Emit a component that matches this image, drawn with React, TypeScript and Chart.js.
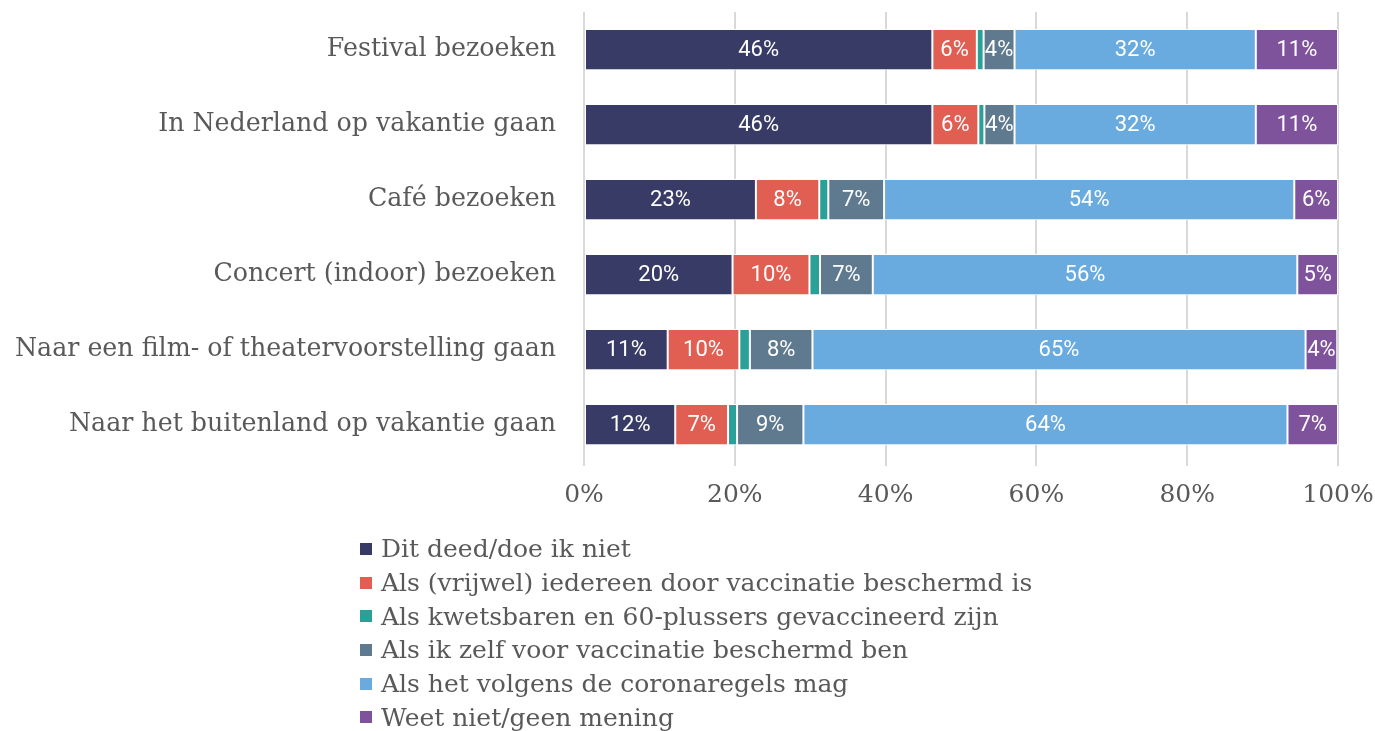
import React, { useEffect, useRef } from "react";
import { Chart, registerables } from "chart.js";

Chart.register(...registerables);

const categories = [
  "Festival bezoeken",
  "In Nederland op vakantie gaan",
  "Café bezoeken",
  "Concert (indoor) bezoeken",
  "Naar een film- of theatervoorstelling gaan",
  "Naar het buitenland op vakantie gaan",
];

const seriesNames = [
  "Dit deed/doe ik niet",
  "Als (vrijwel) iedereen door vaccinatie beschermd is",
  "Als kwetsbaren en 60-plussers gevaccineerd zijn",
  "Als ik zelf voor vaccinatie beschermd ben",
  "Als het volgens de coronaregels mag",
  "Weet niet/geen mening",
];

const ditDeedIkNiet = [46.2, 46.2, 22.8, 19.7, 11.1, 12.1];
const iedereenBeschermd = [5.9, 6.1, 8.4, 10.2, 9.5, 7.0];
const kwetsbarenGevaccineerd = [0.9, 0.8, 1.2, 1.4, 1.4, 1.2];
const zelfBeschermd = [4.1, 4.0, 7.4, 7.0, 8.3, 8.8];
const volgensRegels = [32.0, 32.0, 54.4, 56.3, 65.4, 64.2];
const weetNiet = [10.9, 10.9, 5.8, 5.4, 4.2, 6.7];

const xTicks = [0, 20, 40, 60, 80, 100];

const colors = ["#383B66", "#E05E52", "#2AA198", "#5F7A8E", "#69ABDF", "#7F539B"];

const seriesValues = [
  ditDeedIkNiet,
  iedereenBeschermd,
  kwetsbarenGevaccineerd,
  zelfBeschermd,
  volgensRegels,
  weetNiet,
];

const serif = "'DejaVu Serif', serif";
const textColor = "#595959";

const valueLabels = {
  id: "valueLabels",
  afterDatasetsDraw(chart: any) {
    const ctx = chart.ctx;
    ctx.save();
    ctx.font = "22px Roboto";
    ctx.fillStyle = "#ffffff";
    ctx.textAlign = "center";
    ctx.textBaseline = "middle";
    chart.data.datasets.forEach((ds: any, di: number) => {
      const meta = chart.getDatasetMeta(di);
      meta.data.forEach((bar: any, i: number) => {
        const v = ds.data[i];
        if (v < 3) return;
        const cx = (bar.x + bar.base) / 2;
        ctx.fillText(Math.round(v) + "%", cx, bar.y + 1);
      });
    });
    ctx.restore();
  },
};

const zeroPad = (scale: any) => {
  scale.paddingTop = 0;
  scale.paddingBottom = 0;
  scale.paddingLeft = 0;
  scale.paddingRight = 0;
};

export default function App() {
  const ref = useRef<HTMLCanvasElement | null>(null);

  useEffect(() => {
    document.body.style.margin = "0";
    const chart = new Chart(ref.current as HTMLCanvasElement, {
      type: "bar",
      data: {
        labels: categories,
        datasets: seriesNames.map((name, i) => ({
          label: name,
          data: seriesValues[i],
          backgroundColor: colors[i],
          borderColor: "#ffffff",
          borderWidth: 1,
          borderSkipped: false,
          barPercentage: 0.55,
          categoryPercentage: 1,
        })),
      },
      options: {
        indexAxis: "y",
        animation: false,
        responsive: false,
        maintainAspectRatio: false,
        layout: { padding: { left: 0, right: 37, top: 12, bottom: 219 } },
        plugins: { legend: { display: false }, tooltip: { enabled: false } },
        scales: {
          x: {
            stacked: true,
            min: 0,
            max: 100,
            afterBuildTicks: (scale: any) => {
              scale.ticks = xTicks.map((v) => ({ value: v }));
            },
            afterFit: (scale: any) => {
              scale.height = 50;
              zeroPad(scale);
            },
            ticks: {
              callback: (v: any) => v + "%",
              color: textColor,
              font: { family: serif, size: 25 },
              padding: 14,
            },
            grid: { color: "#D9D9D9", lineWidth: 2, tickLength: 4 },
            border: { display: false },
          },
          y: {
            stacked: true,
            afterFit: (scale: any) => {
              scale.width = 584;
              zeroPad(scale);
            },
            ticks: {
              color: textColor,
              font: { family: serif, size: 25.3 },
              padding: 20,
            },
            grid: { display: false },
            border: { display: false },
          },
        },
      },
      plugins: [valueLabels],
    } as any);
    return () => chart.destroy();
  }, []);

  return (
    <div style={{ position: "absolute", left: 0, top: 0, width: 1375, height: 731, background: "#fff" }}>
      <canvas ref={ref} width={1375} height={731} style={{ position: "absolute", left: 0, top: 0 }} />
      <div style={{ position: "absolute", left: 360, top: 532, fontFamily: serif, fontSize: 25, color: textColor }}>
        {seriesNames.map((name, i) => (
          <div key={name} style={{ display: "flex", alignItems: "center", height: 33.7, whiteSpace: "nowrap" }}>
            <span style={{ display: "inline-block", width: 12, height: 12, background: colors[i], marginRight: 9 }} />
            <span>{name}</span>
          </div>
        ))}
      </div>
    </div>
  );
}
